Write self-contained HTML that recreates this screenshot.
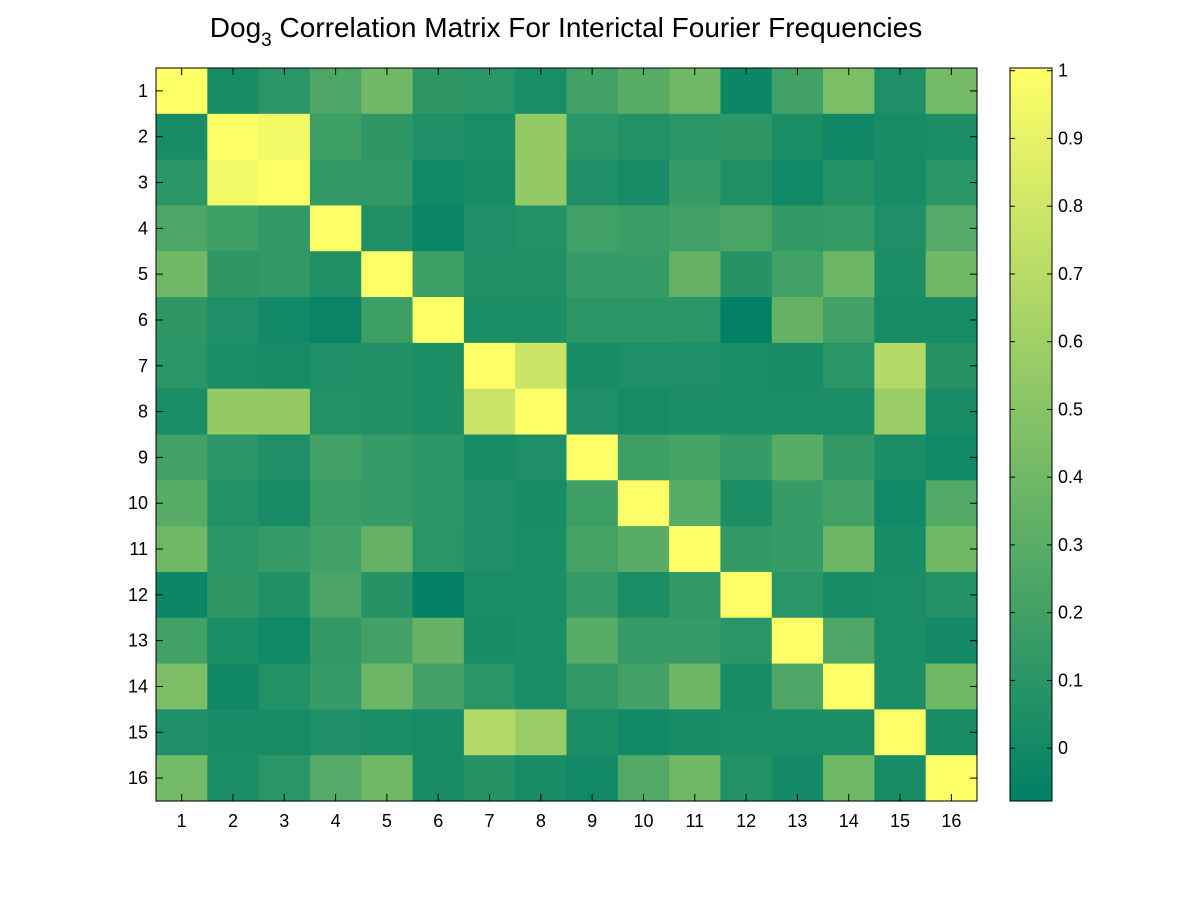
<!DOCTYPE html>
<html><head><meta charset="utf-8"><style>
body{margin:0;background:#fff;}
svg{font-family:"Liberation Sans",sans-serif;}
</style></head><body>
<svg id="chart" width="1200" height="900">
<rect width="1200" height="900" fill="#fff"/>
<text x="566" y="37" text-anchor="middle" font-size="28">Dog<tspan font-size="19" dy="9">3</tspan><tspan dy="-9"> Correlation Matrix For Interictal Fourier Frequencies</tspan></text>
<g id="cells"></g>
<g id="xticks"></g><g id="yticks"></g>
<rect x="156" y="68" width="821" height="733" fill="none" stroke="#000" stroke-width="1"/>
<defs><linearGradient id="cbg" x1="0" y1="1" x2="0" y2="0">
<stop offset="0" stop-color="rgb(0,128,102)"/><stop offset="1" stop-color="rgb(255,255,102)"/></linearGradient></defs>
<rect x="1010" y="68" width="42" height="733" fill="url(#cbg)" stroke="#000"/>
<g id="cbticks"></g>
</svg>
<script>
const labels=["1","2","3","4","5","6","7","8","9","10","11","12","13","14","15","16"];
const row1=[1,0.02,0.1,0.25,0.4,0.12,0.1,0.03,0.2,0.3,0.4,-0.03,0.2,0.45,0.05,0.42];
const row2=[0.02,1,0.95,0.18,0.12,0.05,0.03,0.55,0.1,0.07,0.1,0.12,0.04,-0.01,0.02,0.04];
const row3=[0.1,0.95,1,0.13,0.13,0.0,0.02,0.55,0.05,0.02,0.15,0.06,0.0,0.07,0.02,0.1];
const row4=[0.25,0.18,0.13,1,0.06,-0.04,0.05,0.07,0.2,0.17,0.2,0.23,0.13,0.15,0.05,0.28];
const row5=[0.4,0.12,0.13,0.06,1,0.18,0.06,0.06,0.15,0.15,0.35,0.08,0.2,0.38,0.04,0.4];
const row6=[0.12,0.05,0.0,-0.04,0.18,1,0.04,0.04,0.11,0.11,0.1,-0.07,0.35,0.2,0.02,0.02];
const row7=[0.1,0.03,0.02,0.05,0.06,0.04,1,0.78,0.02,0.05,0.05,0.03,0.02,0.1,0.68,0.08];
const row8=[0.03,0.55,0.55,0.07,0.06,0.04,0.78,1,0.05,0.02,0.04,0.04,0.04,0.03,0.58,0.02];
const row9=[0.2,0.1,0.05,0.2,0.15,0.11,0.02,0.05,1,0.18,0.22,0.15,0.3,0.13,0.04,0.0];
const row10=[0.3,0.07,0.02,0.17,0.15,0.11,0.05,0.02,0.18,1,0.3,0.04,0.15,0.2,0.0,0.27];
const row11=[0.4,0.1,0.15,0.2,0.35,0.1,0.05,0.04,0.22,0.3,1,0.13,0.15,0.38,0.02,0.4];
const row12=[-0.03,0.12,0.06,0.23,0.08,-0.07,0.03,0.04,0.15,0.04,0.13,1,0.1,0.02,0.04,0.07];
const row13=[0.2,0.04,0.0,0.13,0.2,0.35,0.02,0.04,0.3,0.15,0.15,0.1,1,0.25,0.04,0.01];
const row14=[0.45,-0.01,0.07,0.15,0.38,0.2,0.1,0.03,0.13,0.2,0.38,0.02,0.25,1,0.04,0.4];
const row15=[0.05,0.02,0.02,0.05,0.04,0.02,0.68,0.58,0.04,0.0,0.02,0.04,0.04,0.04,1,0.02];
const row16=[0.42,0.04,0.1,0.28,0.4,0.02,0.08,0.02,0.0,0.27,0.4,0.07,0.01,0.4,0.02,1];
const matrix=[row1,row2,row3,row4,row5,row6,row7,row8,row9,row10,row11,row12,row13,row14,row15,row16];
const cbTicks=[0,0.1,0.2,0.3,0.4,0.5,0.6,0.7,0.8,0.9,1];
const cbTickLabels=["0","0.1","0.2","0.3","0.4","0.5","0.6","0.7","0.8","0.9","1"];

const NS="http://www.w3.org/2000/svg";
const X0=156,X1=977,Y0=68,Y1=801,CMIN=-0.078,CMAX=1.004;
const n=labels.length,cw=(X1-X0)/n,ch=(Y1-Y0)/n;
const xs=i=>X0+i*cw, ys=i=>Y0+i*ch;
const cy=v=>Y1-(v-CMIN)/(CMAX-CMIN)*(Y1-Y0);
function color(v){let t=(v-CMIN)/(CMAX-CMIN);t=Math.max(0,Math.min(1,t));
return `rgb(${Math.round(255*t)},${Math.round(128+127*t)},102)`;}
function mk(tag,attrs,parent){const e=document.createElementNS(NS,tag);for(const k in attrs)e.setAttribute(k,attrs[k]);parent.appendChild(e);return e;}
const cells=document.getElementById('cells');
matrix.forEach((row,r)=>row.forEach((v,c)=>{
 const e=mk('rect',{x:xs(c),y:ys(r),width:cw+0.6,height:ch+0.6,fill:color(v)},cells);
 
 
}));
const xt=document.getElementById('xticks'),yt=document.getElementById('yticks');
labels.forEach((l,i)=>{
 const cx=xs(i)+cw/2,cyy=ys(i)+ch/2;
 mk('line',{x1:cx,y1:Y1,x2:cx,y2:Y1-7,stroke:'#000'},xt);
 mk('line',{x1:cx,y1:Y0,x2:cx,y2:Y0+7,stroke:'#000'},xt);
 mk('line',{x1:X0,y1:cyy,x2:X0+7,y2:cyy,stroke:'#000'},yt);
 mk('line',{x1:X1,y1:cyy,x2:X1-7,y2:cyy,stroke:'#000'},yt);
 const a=mk('text',{x:cx,y:Y1+26,'text-anchor':'middle','font-size':18},xt);a.textContent=l;
 
 
 const b=mk('text',{x:X0-8,y:cyy+6,'text-anchor':'end','font-size':18},yt);b.textContent=l;
 
 
});
const cb=document.getElementById('cbticks');
cbTicks.forEach((v,i)=>{
 const y=cy(v);
 mk('line',{x1:1010,y1:y,x2:1015,y2:y,stroke:'#000'},cb);
 mk('line',{x1:1052,y1:y,x2:1047,y2:y,stroke:'#000'},cb);
 const t=mk('text',{x:1058,y:y+6,'font-size':18},cb);t.textContent=cbTickLabels[i];
 
 
});
</script>
</body></html>
